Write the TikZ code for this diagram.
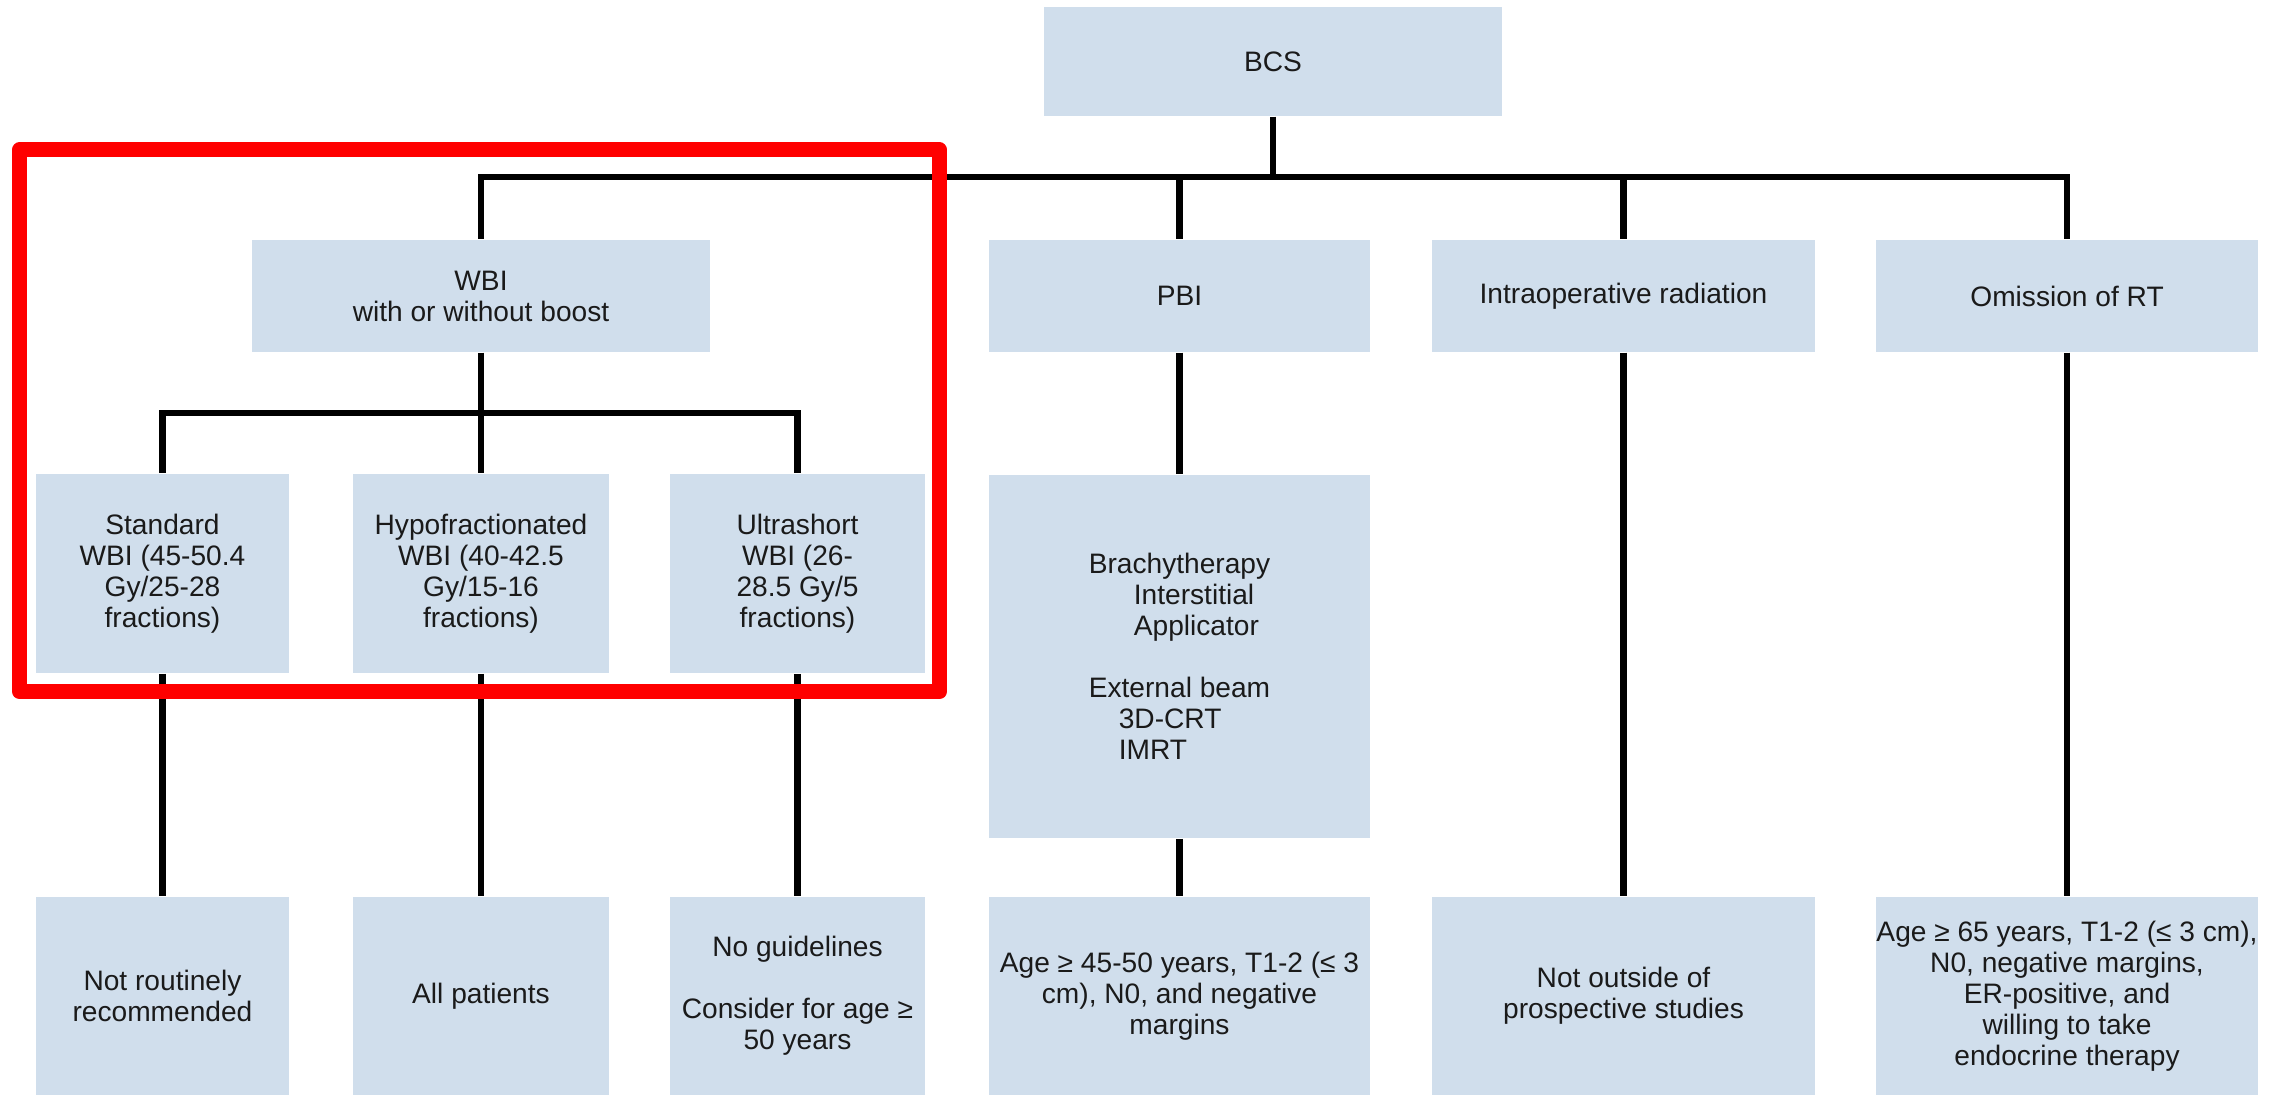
\documentclass[tikz,border=0pt]{standalone}
\usepackage{fontspec}
\setmainfont{Liberation Sans}
\usepackage{xcolor}
\usepackage{tikz}
\definecolor{boxblue}{HTML}{D0DEEC}
\definecolor{inkgray}{HTML}{1A1A1A}
\tikzset{
  box/.style={fill=boxblue, text=inkgray, align=center, inner sep=0pt,
    font=\fontsize{8}{8.8}\selectfont},
  link/.style={draw=black, line width=1.8pt},
  redframe/.style={draw=red, line width=0.15cm, line join=round}
}
\begin{document}
\begin{tikzpicture}[x=0.01cm, y=-0.01cm]
\useasboundingbox (0,0) rectangle (2280,1095);
\node[box, minimum width=4.58cm, minimum height=1.09cm] (bcs) at (1273,61.5) {BCS};
\node[box, minimum width=4.58cm, minimum height=1.12cm] (wbi) at (481,296) {WBI\\with or without boost};
\node[box, minimum width=3.81cm, minimum height=1.12cm] (pbi) at (1179.5,296) {PBI};
\node[box, minimum width=3.83cm, minimum height=1.12cm] (iort) at (1623.5,296) {Intraoperative radiation};
\node[box, minimum width=3.82cm, minimum height=1.12cm] (omit) at (2067,296) {Omission of RT};
\node[box, minimum width=2.53cm, minimum height=1.99cm] (std) at (162.5,573.5) {Standard\\WBI (45-50.4\\Gy/25-28\\fractions)};
\node[box, minimum width=2.56cm, minimum height=1.99cm] (hypo) at (481,573.5) {Hypofractionated\\WBI (40-42.5\\Gy/15-16\\fractions)};
\node[box, minimum width=2.55cm, minimum height=1.99cm] (ultra) at (797.5,573.5) {Ultrashort\\WBI (26-\\28.5 Gy/5\\fractions)};
\node[box, align=left, minimum width=3.81cm, minimum height=3.63cm] (pbitech) at (1179.5,656.5) {Brachytherapy\\\hspace*{0.45cm}Interstitial\\\hspace*{0.45cm}Applicator\\[8.8pt]External beam\\\hspace*{0.3cm}3D-CRT\\\hspace*{0.3cm}IMRT};
\node[box, minimum width=2.53cm, minimum height=1.98cm] (notrout) at (162.5,996) {Not routinely\\recommended};
\node[box, minimum width=2.56cm, minimum height=1.98cm] (allpat) at (481,996) {All patients};
\node[box, minimum width=2.55cm, minimum height=1.98cm] (noguide) at (797.5,996) {No guidelines\\[8.8pt]Consider for age ≥\\50 years};
\node[box, minimum width=3.81cm, minimum height=1.98cm] (pbicrit) at (1179.5,996) {Age ≥ 45-50 years, T1-2 (≤ 3\\cm), N0, and negative\\margins};
\node[box, minimum width=3.83cm, minimum height=1.98cm] (iortcrit) at (1623.5,996) {Not outside of\\prospective studies};
\node[box, minimum width=3.82cm, minimum height=1.98cm] (omitcrit) at (2067,996) {Age ≥ 65 years, T1-2 (≤ 3 cm),\\N0, negative margins,\\ER-positive, and\\willing to take\\endocrine therapy};
\coordinate (split1) at (1273,177);
\coordinate (split2) at (481,413);
\draw[link] (bcs) -- (split1);
\foreach \n in {wbi,pbi,iort,omit}
  \draw[link] (split1) -| (\n);
\draw[link] (wbi) -- (split2);
\foreach \n in {std,hypo,ultra}
  \draw[link] (split2) -| (\n);
\draw[link] (std) -- (notrout);
\draw[link] (hypo) -- (allpat);
\draw[link] (ultra) -- (noguide);
\draw[link] (pbi) -- (pbitech);
\draw[link] (pbitech) -- (pbicrit);
\draw[link] (iort) -- (iortcrit);
\draw[link] (omit) -- (omitcrit);
\draw[redframe] (19.5,150) rectangle (939.5,691.5);
\end{tikzpicture}
\end{document}
